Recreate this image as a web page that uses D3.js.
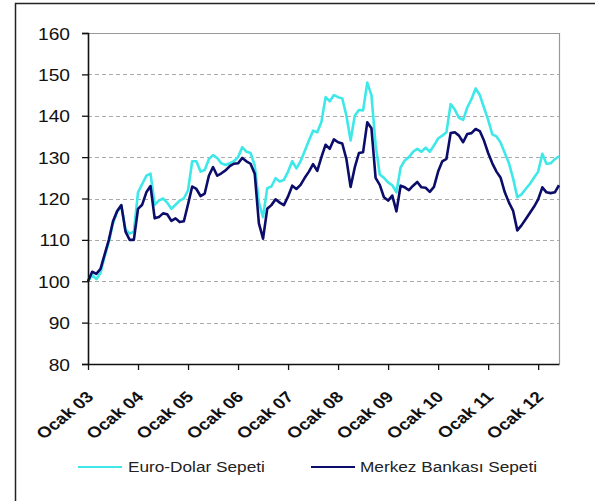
<!DOCTYPE html>
<html>
<head>
<meta charset="utf-8">
<script src="https://cdn.jsdelivr.net/npm/d3@7"></script>
<style>
  html, body { margin: 0; padding: 0; background: #fff; }
  svg { display: block; }
  text { font-family: "Liberation Sans", Arial, sans-serif; }
</style>
</head>
<body>
<svg id="chart" width="595" height="501"></svg>
<script>
const tickLabels = ["Ocak 03","Ocak 04","Ocak 05","Ocak 06","Ocak 07","Ocak 08","Ocak 09","Ocak 10","Ocak 11","Ocak 12"];
const yTicks = [80, 90, 100, 110, 120, 130, 140, 150, 160];
const seriesNames = ["Euro-Dolar Sepeti", "Merkez Bankası Sepeti"];

// Monthly values, Ocak 2003 - Haziran 2012
const euroDolar = [
  100, 101.5, 100.5, 102, 106, 109.5, 114, 116.8, 118.2, 112.5, 111.5, 112,
  121.5, 123.5, 125.5, 126, 118.5, 119.5, 120, 119, 117.5, 118.5, 119.5, 120,
  122, 129, 129, 126.5, 126.9, 129.5, 130.5, 129.8, 128.5, 128.1, 128.5, 129,
  130, 132.4, 131.3, 131, 128, 119, 115.5, 122.5, 122.9, 124.9, 124.1, 124.5,
  126.5, 129, 127.3, 129, 131.5, 134, 136.4, 136, 138.5, 144.5, 143.5, 145,
  144.5, 144.2, 140, 134, 140, 141.4, 141.3, 148, 145, 133, 125.8, 125,
  123.9, 123.2, 121.5, 127.5, 129.2, 130, 131.3, 132, 131.3, 132.3, 131.3, 132.8,
  134.5, 135.2, 136, 142.8, 141.5, 139.5, 139, 142, 144, 146.6, 145, 142,
  139, 135.5, 135, 133.5, 131, 128.5, 124.8, 120.3, 121, 122.3, 123.5, 125,
  126.5, 130.8, 128.4, 128.5, 129.5, 130.2
];
const merkez = [
  100, 102.3, 101.8, 103, 106.5, 110, 114.5, 117, 118.4, 112, 110, 110,
  117.5, 118.5, 121.5, 123, 115.2, 115.5, 116.4, 116.2, 114.6, 115.2, 114.3, 114.5,
  118.6, 122.9, 122.3, 120.6, 121.2, 125.5, 127.6, 125.5, 126.1, 126.8, 127.8, 128.4,
  128.5, 129.8, 129, 128.4, 126, 114, 110.3, 117.5, 118.4, 119.8, 119, 118.4,
  120.5, 123.1, 122.3, 123.3, 125, 126.5, 128.3, 126.7, 130, 133, 132, 134.3,
  133.6, 133.3, 129.5, 122.8, 127.5, 131, 131.2, 138.4, 137, 125, 123.3, 120.3,
  119.5, 120.7, 116.9, 123.1, 122.7, 122, 123.1, 124, 122.7, 122.6, 121.6, 122.8,
  126.5, 129, 129.6, 135.8, 136, 135.2, 133.6, 135.6, 135.8, 136.8, 136.3, 134,
  131, 128.5, 126.5, 125, 121.5, 119, 117, 112.3, 113.5, 115, 116.5, 118,
  119.8, 122.7, 121.5, 121.3, 121.5, 123.2
];

const colors = ["#3ee8e8", "#0c0c6a"];
const SX = 1.2; // horizontal stretch of text in the reference

const svg = d3.select("#chart");
const L = 88, R = 559, T = 33, B = 364;

// outer frame
svg.append("rect").attr("x", 15.5).attr("y", 3.5).attr("width", 620).attr("height", 520)
  .attr("fill", "none").attr("stroke", "#222").attr("stroke-width", 1.5);

const x = d3.scaleLinear().domain([0, euroDolar.length - 1]).range([L, R]);
const y = d3.scaleLinear().domain([80, 160]).range([B, T]);

// gridlines
svg.append("g").selectAll("line").data(yTicks.filter(v => v > 80 && v < 160)).join("line")
  .attr("x1", L).attr("x2", R).attr("y1", d => Math.round(y(d)) + 0.5).attr("y2", d => Math.round(y(d)) + 0.5)
  .attr("stroke", "#aaa").attr("stroke-width", 1).attr("stroke-dasharray", "4,3");

// plot border top/right (gray)
svg.append("path").attr("d", `M${L},${T + 0.5}H${R + 0.5}V${B}`)
  .attr("fill", "none").attr("stroke", "#999").attr("stroke-width", 1.2);

// lines
const line = d3.line().x((d, i) => x(i)).y(d => y(d));
[euroDolar, merkez].forEach((s, k) => {
  svg.append("path").datum(s).attr("d", line).attr("fill", "none")
    .attr("stroke", colors[k]).attr("stroke-width", 2.6).attr("stroke-linejoin", "round");
});

// y axis
const yAxis = svg.append("g").attr("transform", `translate(${L},0)`)
  .call(d3.axisLeft(y).tickValues(yTicks).tickSize(6).tickFormat(d3.format("d")));
yAxis.select(".domain").attr("stroke", "#111").attr("stroke-width", 1.6);
yAxis.selectAll(".tick line").attr("stroke", "#111").attr("stroke-width", 1.3);
yAxis.selectAll(".tick text")
  .attr("x", null).attr("dy", null)
  .attr("transform", `translate(-18,6) scale(${SX},1)`)
  .attr("text-anchor", "end").attr("font-size", 16).attr("fill", "#111")
  .style("font-family", "'Liberation Sans', Arial, sans-serif");

// x axis
const xTickVals = tickLabels.map((d, i) => i * 12);
const xAxis = svg.append("g").attr("transform", `translate(0,${B})`)
  .call(d3.axisBottom(x).tickValues(xTickVals).tickSize(6).tickSizeOuter(0).tickFormat((d, i) => tickLabels[i]));
xAxis.select(".domain").attr("stroke", "#111").attr("stroke-width", 1.6);
xAxis.selectAll(".tick line").attr("stroke", "#111").attr("stroke-width", 1.3);
xAxis.selectAll(".tick text")
  .attr("y", null).attr("dy", null)
  .attr("transform", `translate(6,34) scale(${SX},1) rotate(-45)`)
  .attr("text-anchor", "end").attr("font-size", 15.5).attr("font-weight", "bold").attr("fill", "#111")
  .style("font-family", "'Liberation Sans', Arial, sans-serif");

// legend
const legendPos = [{lx: 78, tx: 128}, {lx: 311, tx: 360}];
const lg = svg.append("g");
seriesNames.forEach((name, k) => {
  const p = legendPos[k];
  lg.append("line").attr("x1", p.lx).attr("x2", p.lx + 44).attr("y1", 467).attr("y2", 467)
    .attr("stroke", colors[k]).attr("stroke-width", 2);
  lg.append("text").attr("transform", `translate(${p.tx},472) scale(1.23,1)`)
    .attr("font-size", 14).attr("fill", "#222").text(name);
});
</script>
</body>
</html>
